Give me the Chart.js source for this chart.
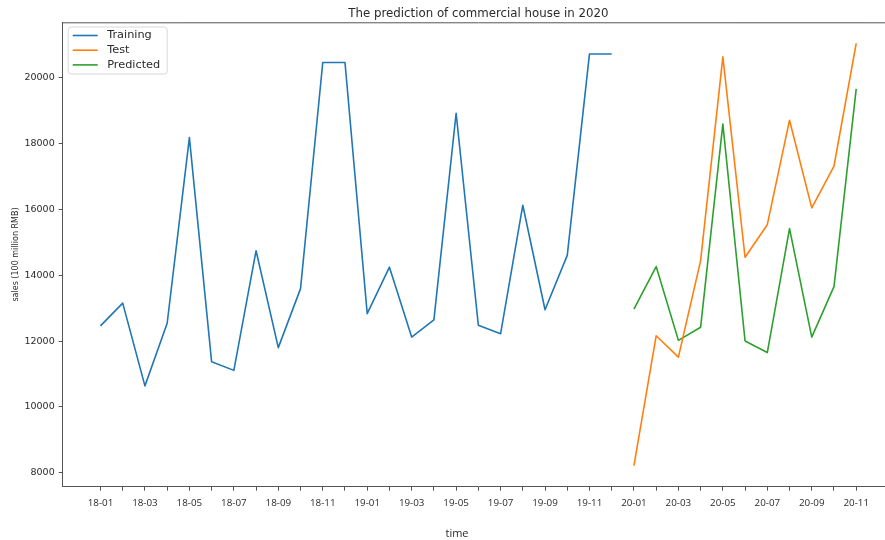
<!DOCTYPE html>
<html>
<head>
<meta charset="utf-8">
<script src="https://cdn.jsdelivr.net/npm/chart.js@4.4.1/dist/chart.umd.min.js"></script>
<style>
  html, body { margin: 0; padding: 0; background: #fff; overflow: hidden; }
  #wrap { width: 900px; height: 540px; }
</style>
</head>
<body>
<div id="wrap"><canvas id="myChart" width="900" height="540"></canvas></div>
<script>
const months = [
  "18-01", "18-02", "18-03", "18-04", "18-05", "18-06", "18-07", "18-08", "18-09", "18-10", "18-11", "18-12",
  "19-01", "19-02", "19-03", "19-04", "19-05", "19-06", "19-07", "19-08", "19-09", "19-10", "19-11", "19-12",
  "20-01", "20-02", "20-03", "20-04", "20-05", "20-06", "20-07", "20-08", "20-09", "20-10", "20-11",
];
const training = [
  12460, 13150, 10640, 12540, 18170, 11370, 11110, 14740, 11800, 13590, 20450, 20450,
  12830, 14240, 12120, 12640, 18910, 12480, 12220, 16120, 12950, 14600, 20710, 20710,
];
const test = [8220, 12160, 11510, 14440, 20620, 14540, 15530, 18700, 16040, 17310, 21030];
const predicted = [12970, 14260, 12020, 12420, 18580, 12000, 11650, 15410, 12120, 13650, 19650];
const yTicks = [8000, 10000, 12000, 14000, 16000, 18000, 20000];

const toPoints = (arr, start) => arr.map((v, i) => ({ x: start + i, y: v }));

// title, axis labels, top spine and the legend box inside the plot
const frame = {
  id: "frame",
  afterDraw(chart) {
    const { ctx, chartArea: a } = chart;
    ctx.save();
    ctx.strokeStyle = "#555";
    ctx.lineWidth = 1;
    ctx.beginPath();
    ctx.moveTo(a.left, a.top + 0.5);
    ctx.lineTo(a.right, a.top + 0.5);
    ctx.stroke();

    ctx.fillStyle = "#2a2a2a";
    ctx.textAlign = "center";
    ctx.textBaseline = "middle";
    ctx.font = "11.8px 'DejaVu Sans'";
    ctx.fillText("The prediction of commercial house in 2020", (a.left + a.right) / 2, a.top - 8);
    ctx.font = "11px 'Open Sans'";
    ctx.fillText("time", 457, a.bottom + 47);

    ctx.save();
    ctx.translate(15.7, (a.top + a.bottom) / 2);
    ctx.rotate(-Math.PI / 2);
    ctx.font = "8px 'DejaVu Sans'";
    ctx.fillText("sales (100 million RMB)", 0, 0);
    ctx.restore();

    // legend
    const bx = a.left + 5.5, by = a.top + 4.7, bw = 99, bh = 47, r = 3;
    ctx.beginPath();
    ctx.moveTo(bx + r, by);
    ctx.lineTo(bx + bw - r, by);
    ctx.quadraticCurveTo(bx + bw, by, bx + bw, by + r);
    ctx.lineTo(bx + bw, by + bh - r);
    ctx.quadraticCurveTo(bx + bw, by + bh, bx + bw - r, by + bh);
    ctx.lineTo(bx + r, by + bh);
    ctx.quadraticCurveTo(bx, by + bh, bx, by + bh - r);
    ctx.lineTo(bx, by + r);
    ctx.quadraticCurveTo(bx, by, bx + r, by);
    ctx.fillStyle = "rgba(255,255,255,0.8)";
    ctx.fill();
    ctx.strokeStyle = "#d8d8d8";
    ctx.stroke();

    ctx.textAlign = "left";
    ctx.font = "11.3px 'DejaVu Sans'";
    chart.data.datasets.forEach((ds, i) => {
      const y = by + 8.5 + i * 14.7;
      ctx.strokeStyle = ds.borderColor;
      ctx.lineWidth = 1.6;
      ctx.beginPath();
      ctx.moveTo(bx + 4.5, y);
      ctx.lineTo(bx + 29.5, y);
      ctx.stroke();
      ctx.fillStyle = "#2a2a2a";
      ctx.fillText(ds.label, bx + 39, y);
    });
    ctx.restore();
  },
};

const ctx = document.getElementById("myChart").getContext("2d");

const myChart = new Chart(ctx, {
  type: "line",
  data: {
    datasets: [
      { label: "Training", data: toPoints(training, 0), borderColor: "#1f77b4" },
      { label: "Test", data: toPoints(test, training.length), borderColor: "#ff7f0e" },
      { label: "Predicted", data: toPoints(predicted, training.length), borderColor: "#2ca02c" },
    ],
  },
  options: {
    responsive: false,
    animation: false,
    events: [],
    layout: { padding: { top: 22.3, right: 6, bottom: 0, left: 0 } },
    elements: {
      line: { borderWidth: 1.6, tension: 0, borderJoinStyle: "round", borderCapStyle: "butt" },
      point: { radius: 0 },
    },
    plugins: {
      legend: { display: false },
      title: { display: false },
      tooltip: { enabled: false },
    },
    scales: {
      x: {
        type: "linear",
        min: -1.7,
        max: 35.7,
        afterBuildTicks: (axis) => {
          axis.ticks = months.map((m, i) => ({ value: i }));
        },
        afterFit: (scale) => {
          scale.height = 53.3;
        },
        ticks: {
          autoSkip: false,
          maxRotation: 0,
          minRotation: 0,
          padding: 7,
          color: "#2a2a2a",
          font: { family: "'Open Sans'", size: 9.8 },
          callback: (value) => (value % 2 === 0 ? months[value] : ""),
        },
        grid: { drawOnChartArea: false, drawTicks: true, tickLength: 4, tickColor: "#555" },
        border: { color: "#555" },
      },
      y: {
        min: 7581,
        max: 21670,
        afterBuildTicks: (axis) => {
          axis.ticks = yTicks.map((v) => ({ value: v }));
        },
        afterFit: (scale) => {
          scale.width = 62.7;
        },
        ticks: {
          padding: 4,
          color: "#2a2a2a",
          font: { family: "'DejaVu Sans'", size: 9.5 },
          callback: (value) => String(value),
        },
        grid: { drawOnChartArea: false, drawTicks: true, tickLength: 4, tickColor: "#555" },
        border: { color: "#555" },
      },
    },
  },
  plugins: [frame],
});
</script>
</body>
</html>
